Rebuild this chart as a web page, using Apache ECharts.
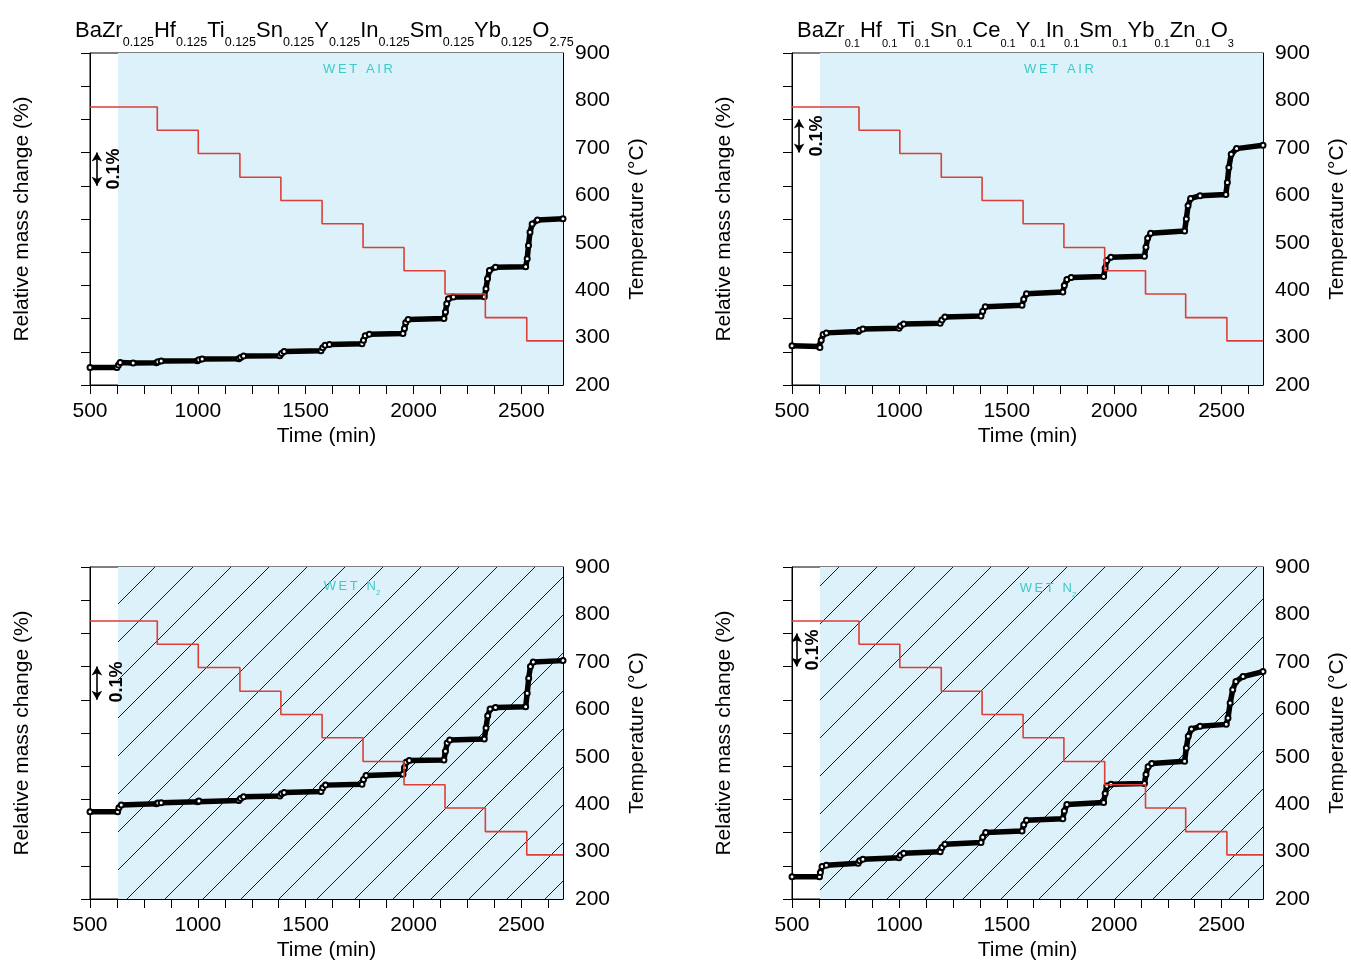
<!DOCTYPE html>
<html><head><meta charset="utf-8">
<script src="https://cdn.jsdelivr.net/npm/echarts@6/dist/echarts.min.js"></script>
<style>html,body{margin:0;padding:0;background:#fff}#c{width:1351px;height:960px}</style>
</head><body><div id="c"></div>
<script>
// ---------------- data ----------------
const timeMin = 500, timeMax = 2693;
const gasSwitchTime = 630;
// furnace temperature programme (°C), value holds from the given time on
const tempTime = [500, 812, 1002, 1195, 1385, 1576, 1766, 1956, 2146, 2333, 2525, 2693];
const tempVal  = [786, 737, 688, 638, 589, 540, 490, 441, 392, 342, 293, 293];

// relative mass change (%), arbitrary zero; [time (min), mass]
const massTL = [[500,0.053],[625,0.053],[632,0.060],[640,0.068],[700,0.066],[808,0.067],[815,0.070],[830,0.072],[998,0.073],[1005,0.076],[1020,0.078],[1190,0.079],[1198,0.083],[1212,0.087],[1380,0.088],[1388,0.095],[1400,0.101],[1571,0.103],[1579,0.112],[1590,0.120],[1610,0.122],[1761,0.124],[1768,0.135],[1776,0.148],[1795,0.153],[1951,0.155],[1958,0.170],[1964,0.188],[1975,0.197],[2141,0.200],[2148,0.220],[2154,0.245],[2162,0.260],[2185,0.265],[2328,0.266],[2336,0.290],[2343,0.320],[2352,0.345],[2380,0.355],[2520,0.356],[2527,0.380],[2533,0.420],[2540,0.460],[2550,0.485],[2575,0.497],[2693,0.501]];
const massTR = [[500,0.118],[625,0.116],[630,0.113],[636,0.135],[645,0.152],[660,0.157],[808,0.161],[815,0.165],[830,0.169],[998,0.171],[1005,0.178],[1020,0.184],[1190,0.186],[1198,0.196],[1212,0.205],[1380,0.208],[1388,0.222],[1400,0.236],[1571,0.240],[1579,0.258],[1592,0.275],[1761,0.280],[1768,0.300],[1780,0.318],[1800,0.324],[1951,0.327],[1958,0.352],[1966,0.375],[1985,0.385],[2141,0.388],[2148,0.415],[2156,0.442],[2170,0.457],[2328,0.464],[2336,0.500],[2344,0.540],[2356,0.562],[2400,0.570],[2520,0.574],[2527,0.610],[2534,0.655],[2545,0.695],[2570,0.712],[2693,0.722]];
const massBL = [[500,0.263],[628,0.263],[634,0.275],[645,0.283],[808,0.287],[815,0.289],[830,0.290],[998,0.293],[1005,0.295],[1190,0.297],[1198,0.303],[1212,0.308],[1380,0.310],[1388,0.317],[1400,0.321],[1571,0.324],[1579,0.335],[1592,0.343],[1761,0.346],[1768,0.360],[1780,0.372],[1951,0.376],[1958,0.395],[1966,0.412],[1980,0.417],[2141,0.419],[2148,0.445],[2156,0.470],[2168,0.479],[2328,0.482],[2336,0.515],[2344,0.552],[2355,0.572],[2380,0.577],[2520,0.579],[2527,0.620],[2534,0.665],[2542,0.700],[2555,0.714],[2693,0.718]];
const massBR = [[500,0.067],[628,0.067],[632,0.080],[640,0.098],[660,0.102],[808,0.108],[815,0.115],[830,0.120],[998,0.124],[1005,0.132],[1020,0.138],[1190,0.142],[1198,0.155],[1212,0.165],[1380,0.170],[1388,0.186],[1402,0.200],[1571,0.205],[1579,0.224],[1592,0.237],[1761,0.242],[1768,0.265],[1780,0.285],[1951,0.291],[1958,0.318],[1966,0.340],[1985,0.346],[2141,0.348],[2148,0.375],[2158,0.398],[2175,0.408],[2328,0.415],[2336,0.455],[2345,0.490],[2360,0.512],[2400,0.520],[2522,0.526],[2530,0.545],[2540,0.590],[2552,0.630],[2567,0.655],[2600,0.670],[2693,0.685]];

// 0.1 % scale bars: [time, low, high]
const scaleBarTL = [532, 0.6, 0.7];
const scaleBarTR = [533, 0.7, 0.8];
const scaleBarBL = [532, 0.6, 0.7];
const scaleBarBR = [522, 0.7, 0.8];

// compositions
const elemsTL = ['BaZr','Hf','Ti','Sn','Y','In','Sm','Yb','O'];
const subsTL  = ['0.125','0.125','0.125','0.125','0.125','0.125','0.125','0.125','2.75'];
const elemsTR = ['BaZr','Hf','Ti','Sn','Ce','Y','In','Sm','Yb','Zn','O'];
const subsTR  = ['0.1','0.1','0.1','0.1','0.1','0.1','0.1','0.1','0.1','0.1','3'];
const atmosTop = 'WET AIR';
const atmosBottom = ['WET N', '2'];

// ---------------- chart ----------------
const FONT = '"Liberation Sans", Arial, Helvetica, sans-serif';
const BLUE = '#dcf1fa';

function makeHatch() {
  const s = 38;
  const c = document.createElement('canvas');
  c.width = s; c.height = s;
  const g = c.getContext('2d');
  g.fillStyle = BLUE; g.fillRect(0, 0, s, s);
  g.strokeStyle = '#1a1a1a'; g.lineWidth = 1;
  g.beginPath();
  g.moveTo(-4, s + 4); g.lineTo(s + 4, -4);
  g.moveTo(-4, 4); g.lineTo(4, -4);
  g.moveTo(s - 4, s + 4); g.lineTo(s + 4, s - 4);
  g.stroke();
  return c;
}
const hatch = makeHatch();

const panels = [
  {mass: massTL, bar: scaleBarTL, left: 90,  top: 53,  width: 473, hatched: false},
  {mass: massTR, bar: scaleBarTR, left: 792, top: 53,  width: 471, hatched: false},
  {mass: massBL, bar: scaleBarBL, left: 90,  top: 567, width: 473, hatched: true},
  {mass: massBR, bar: scaleBarBR, left: 792, top: 567, width: 471, hatched: true}
];
const H = 332;
const tempData = tempTime.map((t, i) => [t, tempVal[i]]);

const grid = [], xAxis = [], yAxis = [], series = [];
const nameStyle = {fontSize: 21, color: '#000', fontFamily: FONT};
panels.forEach((p, i) => {
  grid.push({left: p.left, top: p.top, width: p.width, height: H, show: true,
    borderColor: '#000', borderWidth: 1, backgroundColor: '#fff', containLabel: false, outerBoundsMode: 'none'});
  xAxis.push({gridIndex: i, type: 'value', min: timeMin, max: timeMax, interval: 125,
    name: 'Time (min)', nameLocation: 'middle', nameGap: 41, nameTextStyle: nameStyle,
    axisLine: {show: true, onZero: false, lineStyle: {color: '#000', width: 1}},
    axisTick: {show: true, length: 9, lineStyle: {color: '#000'}},
    axisLabel: {fontSize: 21, color: '#000', fontFamily: FONT, margin: 16, showMaxLabel: false,
      formatter: v => (v % 500 === 0 ? String(v) : '')},
    splitLine: {show: false}});
  yAxis.push({gridIndex: i, type: 'value', min: 0, max: 1, interval: 0.1, position: 'left',
    name: 'Relative mass change (%)', nameLocation: 'middle', nameGap: 57, nameRotate: 90, nameTextStyle: nameStyle,
    axisLine: {show: true, onZero: false, lineStyle: {color: '#000', width: 1}},
    axisTick: {show: true, length: 9, lineStyle: {color: '#000'}},
    axisLabel: {show: false}, splitLine: {show: false}});
  yAxis.push({gridIndex: i, type: 'value', min: 200, max: 900, interval: 50, position: 'right',
    name: 'Temperature (°C)', nameLocation: 'middle', nameGap: 64, nameRotate: 90, nameTextStyle: nameStyle,
    axisLine: {show: true, onZero: false, lineStyle: {color: '#000', width: 1}},
    axisTick: {show: true, inside: true, length: 7, lineStyle: {color: '#000'}},
    axisLabel: {fontSize: 21, color: '#000', fontFamily: FONT, margin: 12,
      formatter: v => (v % 100 === 0 ? String(v) : '')},
    splitLine: {show: false}});

  // atmosphere background band
  series.push({type: 'line', xAxisIndex: i, yAxisIndex: 2 * i, data: [], z: 1, silent: true,
    markArea: {silent: true, label: {show: false},
      itemStyle: {color: p.hatched ? {image: hatch, repeat: 'repeat'} : BLUE, opacity: 1, borderWidth: 0},
      data: [[{xAxis: gasSwitchTime}, {xAxis: timeMax}]]}});
  // mass change
  series.push({type: 'line', xAxisIndex: i, yAxisIndex: 2 * i, data: p.mass, z: 2, silent: true,
    symbol: 'emptyCircle', symbolSize: 5, showSymbol: true, showAllSymbol: true,
    itemStyle: {color: '#000', borderColor: '#000', borderWidth: 1.3},
    lineStyle: {color: '#000', width: 5.5},
    markLine: {silent: true, symbol: ['arrow', 'arrow'], symbolSize: [8, 9], label: {show: false},
      lineStyle: {color: '#000', width: 1.6, type: 'solid'},
      data: [[{coord: [p.bar[0], p.bar[1]]}, {coord: [p.bar[0], p.bar[2]]}]]}});
  // temperature
  series.push({type: 'line', step: 'end', xAxisIndex: i, yAxisIndex: 2 * i + 1, data: tempData, z: 3, silent: true,
    symbol: 'none', lineStyle: {color: '#dc3f37', width: 1.6}});
});

function formula(elems, subs) {
  return elems.map((e, k) => '{m|' + e + '}{s|' + subs[k] + '}').join('');
}
const richFor = subSize => ({
  m: {fontSize: 22, fontFamily: FONT, fill: '#000', lineHeight: 22, verticalAlign: 'top'},
  s: {fontSize: subSize, fontFamily: FONT, fill: '#000', lineHeight: 29, verticalAlign: 'bottom'}
});
const cyan = '#3fc9c9';
const subRich = {
  a: {fontSize: 13, fontFamily: FONT, fill: cyan, lineHeight: 14, verticalAlign: 'top'},
  b: {fontSize: 8, fontFamily: FONT, fill: cyan, lineHeight: 17, verticalAlign: 'bottom'}
};
const spaced = s => s.split('').join('\u2009');
const txt = (x, y, style, rot) => ({type: 'text', x, y, z: 100, zlevel: 0, silent: true, rotation: rot || 0, style});
const graphic = [
  txt(75, 20, {text: formula(elemsTL, subsTL), rich: richFor(12.5), textVerticalAlign: 'top'}),
  txt(797, 20, {text: formula(elemsTR, subsTR), rich: richFor(11), textVerticalAlign: 'top'}),
  txt(358, 69, {text: spaced(atmosTop), font: '13px ' + FONT, fill: cyan, textAlign: 'center', textVerticalAlign: 'middle'}),
  txt(1059, 69, {text: spaced(atmosTop), font: '13px ' + FONT, fill: cyan, textAlign: 'center', textVerticalAlign: 'middle'}),
  txt(352, 588, {text: '{a|' + spaced(atmosBottom[0]) + '}{b|' + atmosBottom[1] + '}', textAlign: 'center', textVerticalAlign: 'middle', rich: subRich}),
  txt(1048, 590, {text: '{a|' + spaced(atmosBottom[0]) + '}{b|' + atmosBottom[1] + '}', textAlign: 'center', textVerticalAlign: 'middle', rich: subRich}),
  txt(114, 169, {text: '0.1%', font: 'bold 18px ' + FONT, fill: '#000', textAlign: 'center', textVerticalAlign: 'middle'}, Math.PI / 2),
  txt(817, 136, {text: '0.1%', font: 'bold 18px ' + FONT, fill: '#000', textAlign: 'center', textVerticalAlign: 'middle'}, Math.PI / 2),
  txt(117, 682, {text: '0.1%', font: 'bold 18px ' + FONT, fill: '#000', textAlign: 'center', textVerticalAlign: 'middle'}, Math.PI / 2),
  txt(813, 650, {text: '0.1%', font: 'bold 18px ' + FONT, fill: '#000', textAlign: 'center', textVerticalAlign: 'middle'}, Math.PI / 2)
];

const chart = echarts.init(document.getElementById('c'), null, {renderer: 'canvas'});
chart.setOption({
  animation: false,
  backgroundColor: '#fff',
  textStyle: {fontFamily: FONT},
  grid, xAxis, yAxis, series, graphic
});
</script></body></html>
